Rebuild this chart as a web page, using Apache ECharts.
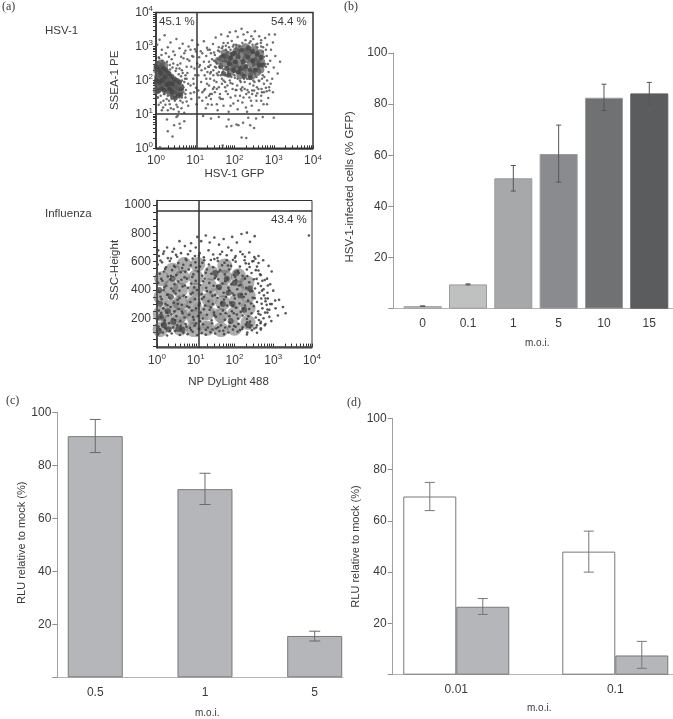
<!DOCTYPE html>
<html><head><meta charset="utf-8">
<style>html,body{margin:0;padding:0;background:#fff}#c{width:673px;height:719px}</style>
<script src="https://cdn.jsdelivr.net/npm/echarts@6/dist/echarts.min.js"></script>
</head><body><div id="c"></div>
<script>
// Flow cytometry panels: flat x,y lists, log axes in hundredths of a decade
const hsvSparse=[3,305,9,320,15,290,22,333,30,298,37,312,44,285,52,322,60,295,68,308,75,287,83,300,92,318,99,292,107,305,114,286,122,315,130,296,137,290,145,307,152,326,160,298,166,335,172,310,178,290,183,330,188,342,193,316,198,305,203,345,208,328,213,300,218,352,223,335,228,318,233,342,238,310,243,330,248,322,252,345,258,308,263,330,268,318,273,298,278,325,283,305,288,335,293,290,298,312,303,335,
62,250,70,265,78,240,85,258,92,272,98,235,105,250,110,268,116,230,122,255,128,272,133,240,138,220,143,262,148,282,153,238,158,215,163,270,40,262,48,275,55,245,33,270,25,280,14,275,8,265,
64,212,72,195,80,222,88,185,95,205,102,178,108,215,115,195,122,170,128,205,135,185,142,160,148,200,155,175,162,150,168,190,
5,150,12,135,20,160,27,145,35,130,42,155,48,140,55,122,60,150,68,135,75,160,82,125,90,145,97,165,103,130,110,150,18,120,30,112,45,115,58,108,72,105,
28,85,52,92,60,72,46,68,72,80,30,50,42,35,10,3,62,60,
118,140,127,118,135,155,142,128,150,165,157,112,165,145,172,125,178,168,185,108,190,150,197,132,203,172,208,115,214,155,220,135,226,175,232,108,238,150,244,125,250,170,256,140,262,112,268,155,274,130,280,178,286,148,292,190,298,165,
272,215,278,248,282,272,287,225,291,258,296,205,300,238,304,272,310,220,316,255,
130,190,138,205,146,215,154,195,160,225,168,205,175,215,182,185,188,200,195,175,201,208,207,185,214,200,220,180,226,195,233,172,239,190,245,170,251,195,257,180,263,198,269,175,275,190,
150,240,158,262,165,248,172,232,180,215,186,262,135,255,125,235,112,245,100,215,90,240,75,215,66,230,
180,64,192,66,205,70,210,68,222,75,240,68,250,60,218,32,230,30,170,8,120,95,140,88,160,92,185,85,235,90,255,88,272,92,300,90,55,96,
35,245,42,238,50,228,58,218,66,200,62,178,70,165,66,150,50,150,40,145,30,155,22,160,12,155,4,165,70,180,76,172,78,205,
150,275,158,288,168,295,178,302,140,280,132,290,272,285,280,290,285,248,268,300,258,298,246,305,196,300,186,298,
165,215,172,200,160,180,176,180,190,192,205,172,218,170,230,160,245,160,258,162,270,165,282,168,145,175,138,160,128,150,118,165,108,170,
2,255,7,268,16,258,28,255,36,232,44,250,52,235,60,235,68,222,74,205,82,190,68,185,75,150,62,140,55,160,47,165,40,150,33,140,26,170,19,140,10,170,3,150,7,128,15,112,24,128,38,118,52,128,65,118,78,138,88,162,96,190,
135,240,140,225,148,258,155,250,162,285,170,300,176,272,183,310,190,290,197,282,204,305,211,280,220,310,227,275,234,295,241,315,247,290,254,305,260,285,267,310,275,270,280,240,276,210,283,200,288,180,270,205,262,200,256,210,248,200,240,205,232,205,224,205,216,195,208,205,200,215,192,210,184,225,178,215,170,225,162,240,155,220,
64,270,72,280,80,262,88,290,95,270,102,285,110,240,118,280,124,215,131,225,139,245,146,230,152,255,
125,175,132,130,140,145,148,180,155,130,163,160,170,145,176,195,183,160,190,125,195,190,202,155,209,140,216,175,223,150,229,120,236,165,242,140,248,185,255,155,261,175,268,140,275,165,283,130,289,170];
const hsvCore=[3,230,8,222,14,236,20,228,27,218,33,205,40,198,47,190,54,186,60,180,5,210,11,204,18,212,25,200,31,192,38,182,45,175,52,170,58,165,4,190,10,183,17,190,24,180,30,172,37,165,44,158,6,245,13,250,21,243,2,170,
170,265,178,250,185,275,192,240,198,262,205,285,212,250,218,270,225,238,230,262,235,282,242,250,248,270,255,240,260,262,265,280,220,225,205,232,238,222,190,225,175,280,210,295,228,298,250,290,268,255,266,232,160,258,215,215,245,215,200,245,258,225,230,285,182,262,252,255];
const hsvCoreFine=[0,240,6,232,12,222,19,235,26,230,33,220,40,212,47,205,54,200,60,195,65,175,63,158,56,155,49,148,42,165,35,175,28,188,21,170,14,175,7,170,1,200,9,195,16,200,23,210,34,190,42,190,
165,240,172,272,180,235,187,250,195,278,202,255,209,270,215,235,222,255,228,240,234,268,240,232,246,258,252,230,258,278,263,245,268,268,272,245,210,225,225,212,240,208,198,230,185,215,172,220,246,285,236,296,218,288,200,280,190,265];
const fluSparse=[3,85,15,100,26,78,38,92,47,110,59,82,68,98,79,88,92,105,104,80,115,95,126,84,138,102,150,92,161,110,173,88,184,100,196,120,208,105,220,125,233,100,245,115,258,98,232,85,268,130,
4,140,13,155,22,128,31,165,41,135,52,150,63,125,74,160,85,132,97,148,108,125,119,158,131,135,142,165,153,128,165,150,176,135,188,170,199,145,210,160,221,138,233,172,244,150,256,135,267,165,278,150,
2,195,10,210,20,185,29,220,40,195,50,215,60,182,71,205,83,225,95,190,106,215,118,198,129,225,141,185,152,210,164,230,175,190,187,215,198,235,209,198,221,220,232,195,244,235,255,205,267,225,279,240,290,210,
5,255,16,270,25,240,35,280,45,250,56,265,66,235,78,285,90,255,101,270,113,240,124,290,136,260,147,240,159,280,170,255,181,290,193,250,204,275,216,245,227,290,238,265,250,285,261,250,272,270,283,295,
2,320,12,335,22,300,32,345,43,310,53,330,64,295,75,350,86,315,98,335,110,305,121,350,133,320,144,300,156,345,167,315,178,350,190,310,201,340,213,305,224,350,235,325,247,345,258,315,269,340,280,320,292,300,
6,385,17,400,26,365,37,410,48,375,58,395,69,360,80,415,92,380,103,400,115,370,127,415,138,385,150,365,161,410,172,380,184,415,195,375,207,405,218,370,230,415,241,390,253,410,264,380,275,405,285,380,
3,450,14,465,24,430,34,475,45,440,55,460,66,425,77,480,88,445,100,465,112,435,123,480,135,450,146,430,158,475,169,445,181,480,192,440,204,470,215,435,227,480,238,455,250,475,261,445,272,465,
7,515,18,530,28,495,39,540,50,505,61,525,71,490,82,545,94,510,106,530,117,500,129,545,140,515,152,495,163,540,175,510,186,545,198,505,209,535,221,500,232,545,244,520,255,540,266,510,
2,580,13,595,23,560,33,605,44,570,55,590,65,555,76,610,87,575,99,595,111,565,122,610,134,580,145,560,157,605,168,575,180,610,191,570,203,600,214,565,226,610,237,585,249,605,258,565,
5,640,16,655,28,625,40,670,52,635,62,660,74,620,86,675,98,640,110,660,121,630,133,680,145,650,156,625,168,670,180,645,192,680,203,640,215,670,227,635,238,665,
3,680,26,700,44,690,58,745,72,710,88,730,100,700,104,775,114,745,126,785,136,735,148,770,160,720,172,760,184,700,194,775,206,735,218,795,232,805,240,740,252,780,
262,640,274,610,288,570,296,530,284,480,292,440,300,395,286,340,296,300,306,270,315,330,325,280,332,235,312,220,285,240,295,180,280,160,268,120,
548,235,392,785,
7,122,33,108,61,146,88,117,111,178,143,121,171,112,203,140,229,155,251,128,19,172,47,188,76,141,101,163,126,119,158,137,187,142,214,116,240,176,263,188,
11,238,37,227,64,248,93,208,121,263,148,222,177,236,206,226,236,214,262,232,285,262,27,292,54,302,83,278,108,292,139,276,166,304,195,288,223,268,243,304,270,302,
9,352,29,368,58,342,87,372,116,338,143,358,173,332,199,362,229,372,252,342,276,362,19,418,42,392,72,432,96,418,129,392,155,428,186,398,211,432,246,392,268,428,
11,478,36,498,63,472,91,492,119,462,149,482,176,462,202,492,233,498,257,478,286,432,21,548,47,562,73,528,101,558,126,522,159,528,183,572,211,522,239,562,262,538,
9,608,36,622,68,578,92,622,117,592,148,618,174,592,201,628,229,588,251,632,18,672,49,648,80,652,108,642,139,612,163,652,196,612,221,652,246,602,
271,395,278,470,280,340,268,505,262,590,254,620,290,260,305,325,275,200,268,175,258,150,240,135];
const fluSoft=[8,120,30,170,8,230,35,280,10,350,35,420,12,480,40,540,60,130,60,220,60,310,60,400,65,490,70,580,95,120,95,210,95,300,100,400,100,490,105,580,130,130,130,240,135,330,135,430,140,520,165,120,165,220,170,310,170,400,175,490,175,570,200,130,200,230,205,320,205,420,210,500,235,170,235,270,235,360,232,450];
const fluLight=[60,180,75,230,90,160,105,280,120,200,135,310,85,330,100,390,70,270,115,350,130,140,150,240,50,300,95,230,145,380,165,200,110,150];
const fluDark=[5,110,18,150,30,120,10,210,28,250,42,175,55,125,8,300,36,350,6,400,40,480,65,120,
170,300,185,380,200,450,195,300,215,360,205,520,180,480,225,260,160,420,240,410,150,520,190,180,235,150];
// Gates and quadrant labels
const hsvGateX=10.9, hsvGateY=10.2, fluGateX=11.9, fluGateY=958;
const decadeLabels=[1,10,100,1000,10000];
// Bar panels
const moiB=['0','0.1','1','5','10','15'];
const valuesB=[1,9.5,51,60.5,82.5,84.2];
const lowB=[0.9,9.3,46,49.5,77.5,80];
const highB=[1.1,9.7,56,71.8,87.8,88.5];
const coloursB=['#c9c9c9','#bfc0c0','#a6a8aa','#8a8b8e','#707173','#5b5c5e'];
const moiC=['0.5','1','5'];
const valuesC=[91,71,15.6];
const lowC=[84.8,65.2,13.7];
const highC=[97.3,77,17.4];
const moiD=['0.01','0.1'];
const whiteD=[69.5,48];
const whiteLowD=[64,40];
const whiteHighD=[75,56];
const greyD=[26.5,7.5];
const greyLowD=[23.5,2.5];
const greyHighD=[29.7,13];

const FONT='"Liberation Sans",Arial,sans-serif';
const TXT='#3a3a3a';
const pairs=a=>{const o=[];for(let i=0;i<a.length;i+=2)o.push([Math.pow(10,a[i]/100),Math.pow(10,a[i+1]/100)]);return o;};
const pairsLin=a=>{const o=[];for(let i=0;i<a.length;i+=2)o.push([Math.pow(10,a[i]/100),a[i+1]]);return o;};
const minorLog=[];for(let d=1;d<10000;d*=10)for(let k=1;k<10;k++)minorLog.push(d*k);minorLog.push(10000);
const logFmt=v=>'{b|10}{s|'+Math.round(Math.log10(v))+'}';
const logRich={b:{fontSize:12,fontFamily:FONT,color:TXT},s:{fontSize:8,fontFamily:FONT,color:TXT,padding:[0,0,7,0]}};

const logAxis=(i,name,gap,pad)=>({type:'log',gridIndex:i,min:1,max:10000,logBase:10,
  name,nameLocation:'middle',nameGap:gap,nameTextStyle:{fontSize:11.5,fontFamily:FONT,color:TXT,padding:pad||0},
  axisLine:{show:true,lineStyle:{color:'#333',width:1.5}},
  axisTick:{show:true,inside:true,length:3,customValues:minorLog,lineStyle:{color:'#333',width:1}},
  axisLabel:{customValues:decadeLabels,formatter:logFmt,rich:logRich,margin:5,hideOverlap:false},
  splitLine:{show:false}});
const barX=(i,min,max,cats,margin)=>({type:'value',gridIndex:i,min,max,
  axisLine:{show:true,onZero:false,lineStyle:{color:'#b4b4b4',width:1}},axisTick:{show:false},splitLine:{show:false},
  axisLabel:{customValues:cats.map((_,k)=>k),formatter:v=>cats[Math.round(v)],fontSize:12,fontFamily:FONT,color:TXT,margin}});
const barY=(i,name,gap,pad,fs)=>({type:'value',gridIndex:i,min:0,max:100,interval:20,
  name,nameLocation:'middle',nameGap:gap,nameTextStyle:{fontSize:fs,fontFamily:FONT,color:TXT,padding:pad},
  axisLine:{show:true,onZero:false,lineStyle:{color:'#a0a0a0',width:1}},axisTick:{show:true,length:5,lineStyle:{color:'#909090'}},splitLine:{show:false},
  axisLabel:{fontSize:12,fontFamily:FONT,color:TXT,margin:6,formatter:v=>v===0?'':String(v)}});
const errSeries=(ax,rows,cap,color)=>({type:'custom',xAxisIndex:ax,yAxisIndex:ax,data:rows,z:5,silent:true,
  encode:{x:0,y:[1,2]},
  renderItem:(p,api)=>{const x=api.value(0),a=api.coord([x,api.value(1)]),b=api.coord([x,api.value(2)]);
    const st={stroke:color,lineWidth:1};
    const ln=(x1,y1,x2,y2)=>({type:'line',shape:{x1,y1,x2,y2},style:st});
    return {type:'group',children:[ln(a[0],a[1],b[0],b[1]),ln(a[0]-cap,a[1],a[0]+cap,a[1]),ln(a[0]-cap,b[1],a[0]+cap,b[1])]};}});
const gate=(x,y)=>({silent:true,symbol:'none',animation:false,label:{show:false},lineStyle:{color:'#333',width:1.5,type:'solid'},data:[{xAxis:x},{yAxis:y}]});
const label=(t,x,y,o={})=>({type:'text',x,y,silent:true,style:Object.assign({text:t,fontSize:11.5,fontFamily:FONT,fill:TXT,verticalAlign:'middle'},o)});
const SERIF={fontFamily:'"Liberation Serif",serif',fontSize:12};
const offD=26.5/159;
const sc=(name,ax,data,size,color,opacity,extra)=>Object.assign({name,type:'scatter',xAxisIndex:ax,yAxisIndex:ax,data,symbolSize:size,itemStyle:{color,opacity},silent:true},extra||{});

const option={
  backgroundColor:'#fff',animation:false,
  grid:[
   {left:156,top:12.5,width:157,height:135.8,show:true,borderColor:'#333',borderWidth:1.5,backgroundColor:'transparent'},
   {left:157,top:200.5,width:155,height:147.5,show:true,borderColor:'#333',borderWidth:1,backgroundColor:'transparent'},
   {left:393.3,top:53,width:279.7,height:255.7},
   {left:57.3,top:412.3,width:285.7,height:265},
   {left:392.7,top:418.3,width:280.3,height:256.4}],
  xAxis:[logAxis(0,'HSV-1 GFP',19),logAxis(1,'NP DyLight 488',28,[0,12,0,0]),
    barX(2,-0.648,5.523,moiB,9),barX(3,-0.346,2.258,moiC,9),barX(4,-0.4,1.363,moiD,9)],
  yAxis:[
   Object.assign(logAxis(0,'SSEA-1 PE',35),{axisLabel:{customValues:decadeLabels,formatter:logFmt,rich:logRich,margin:3,hideOverlap:false},axisTick:{show:true,inside:false,length:3,customValues:minorLog,lineStyle:{color:'#333'}}}),
   {type:'value',gridIndex:1,min:-10,max:1032,name:'SSC-Height',nameLocation:'middle',nameGap:30,nameTextStyle:{fontSize:11.5,fontFamily:FONT,color:TXT,padding:[0,0,0,8]},
    axisLine:{show:true,lineStyle:{color:'#333',width:1.5}},
    axisTick:{show:true,length:4,customValues:[0,50,100,150,200,250,300,350,400,450,500,550,600,650,700,750,800,850,900,950,1000],lineStyle:{color:'#333'}},
    axisLabel:{customValues:[200,400,600,800,1000],formatter:v=>String(v),fontSize:12,fontFamily:FONT,color:TXT,margin:6},splitLine:{show:false}},
   barY(2,'HSV-1-infected cells (% GFP)',37,[0,12,0,0],11.5),
   barY(3,'RLU relative to mock (%)',30,[0,0,0,4],11),
   barY(4,'RLU relative to mock (%)',31,0,11)],
  series:[
   sc('HSV-1 density',0,pairs(hsvCore),8,'#555',.7),
   sc('HSV-1 core',0,pairs(hsvCoreFine),5,'#444',.85),
   sc('HSV-1 events',0,pairs(hsvSparse),2.5,'#555',.85,{markLine:gate(hsvGateX,hsvGateY)}),
   sc('Influenza haze',1,pairsLin(fluSoft),15,'#5c5c5c',.5),
   sc('Influenza dense',1,pairsLin(fluDark),6,'#444',.75),
   sc('Influenza centre',1,pairsLin(fluLight),9,'#808080',.4,{markLine:gate(fluGateX,fluGateY)}),
   sc('Influenza events',1,pairsLin(fluSparse),2.6,'#444',.9),
   {name:'HSV-1 infected',type:'bar',xAxisIndex:2,yAxisIndex:2,barWidth:38,silent:true,
    data:valuesB.map((v,i)=>({value:[i,v],itemStyle:{color:coloursB[i],borderColor:i===5?coloursB[i]:'#9a9b9d',borderWidth:1}}))},
   errSeries(2,valuesB.map((_,i)=>[i,lowB[i],highB[i]]),2.5,'#555'),
   {name:'RLU',type:'bar',xAxisIndex:3,yAxisIndex:3,barWidth:55,silent:true,
    itemStyle:{color:'#b5b6b9',borderColor:'#77787a',borderWidth:1},data:valuesC.map((v,i)=>[i,v])},
   errSeries(3,valuesC.map((_,i)=>[i,lowC[i],highC[i]]),5.5,'#6a6a6a'),
   {name:'White',type:'bar',xAxisIndex:4,yAxisIndex:4,barWidth:53,barGap:0,silent:true,
    itemStyle:{color:'#fff',borderColor:'#77787a',borderWidth:1},data:whiteD.map((v,i)=>[i,v])},
   {name:'Grey',type:'bar',xAxisIndex:4,yAxisIndex:4,barWidth:53,barGap:0,silent:true,
    itemStyle:{color:'#b5b6b9',borderColor:'#77787a',borderWidth:1},data:greyD.map((v,i)=>[i,v])},
   errSeries(4,[...whiteD.map((_,i)=>[i-offD,whiteLowD[i],whiteHighD[i]]),...greyD.map((_,i)=>[i+offD,greyLowD[i],greyHighD[i]])],5,'#777')
  ],
  graphic:[
   label('(a)',2,7,SERIF),label('(b)',344,7,SERIF),label('(c)',6,401,SERIF),label('(d)',347,403,SERIF),
   label('HSV-1',45,31),label('Influenza',45,214),
   label('45.1 %',159,21.5),label('54.4 %',271,21.5),label('43.4 %',271,220),
   label('m.o.i.',525,343,{fontSize:10}),label('m.o.i.',195,713,{fontSize:10}),label('m.o.i.',527,708,{fontSize:10})
  ]
};
const chart=echarts.init(document.getElementById('c'),null,{renderer:'canvas',width:673,height:719});
chart.setOption(option);
</script></body></html>
